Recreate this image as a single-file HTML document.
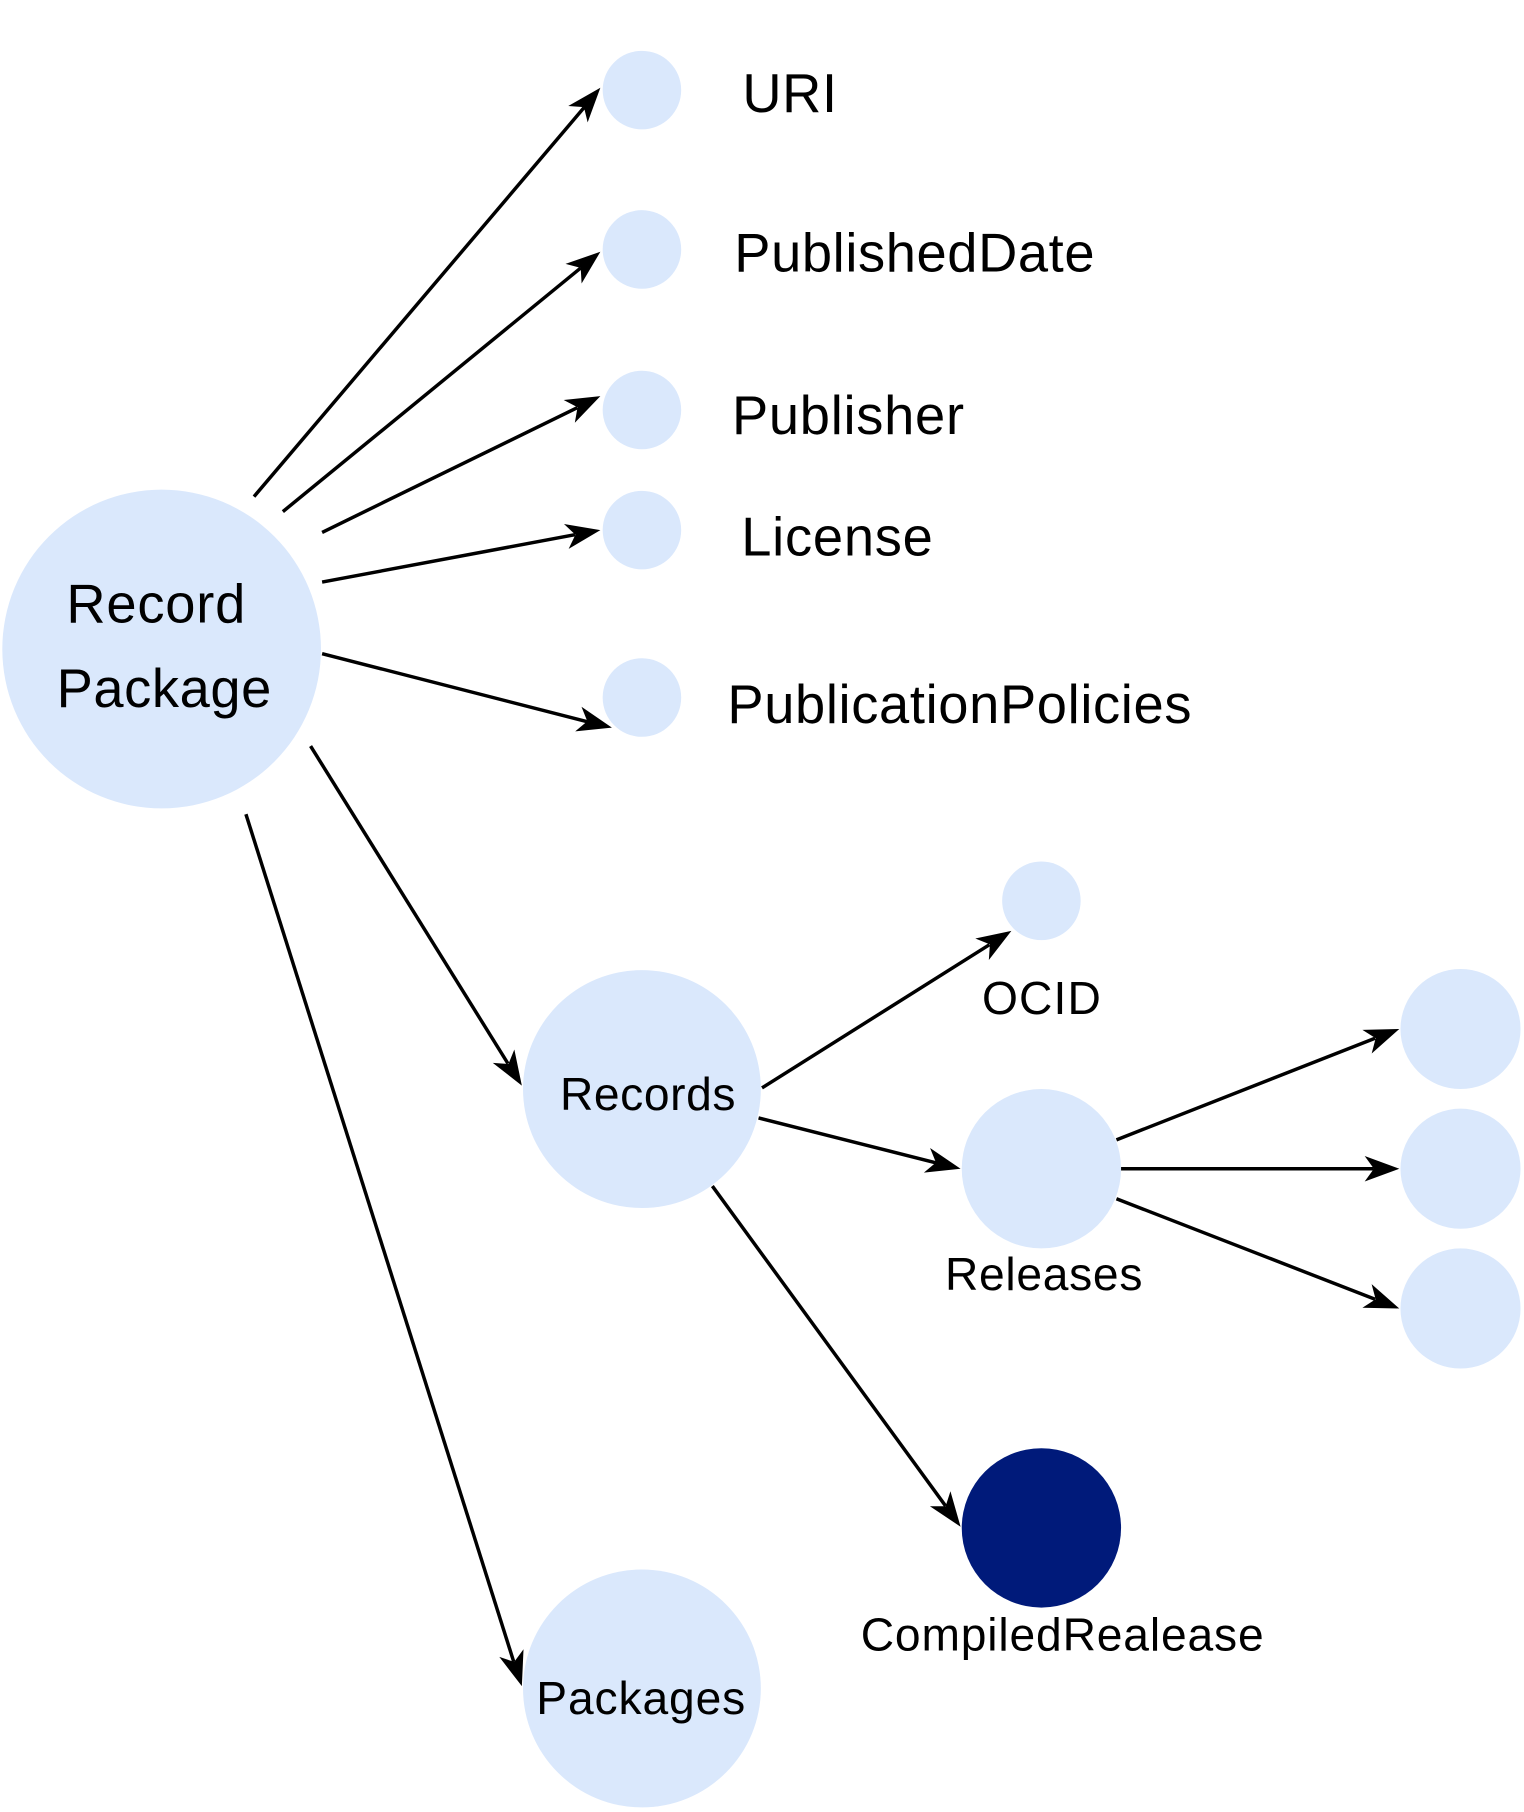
<!DOCTYPE html>
<html><head><meta charset="utf-8"><style>html,body{margin:0;padding:0;background:#fff}svg{display:block}</style></head>
<body>
<svg width="1524" height="1812" viewBox="0 0 1320 1569" preserveAspectRatio="none" xmlns="http://www.w3.org/2000/svg" font-family="Liberation Sans, Helvetica, Arial, sans-serif">
<g fill="#dae8fc">
<circle cx="140" cy="562" r="138"/>
<circle cx="556" cy="78" r="34"/>
<circle cx="556" cy="216" r="34"/>
<circle cx="556" cy="355" r="34"/>
<circle cx="556" cy="459" r="34"/>
<circle cx="556" cy="604" r="34"/>
<circle cx="556" cy="943" r="103"/>
<circle cx="556" cy="1462" r="103"/>
<circle cx="902" cy="780" r="34"/>
<circle cx="902" cy="1012" r="69"/>
<circle cx="1265" cy="891" r="52"/>
<circle cx="1265" cy="1012" r="52"/>
<circle cx="1265" cy="1133" r="52"/>
</g>
<circle cx="902" cy="1323" r="69" fill="#001a7a"/>
<g stroke="#000" stroke-width="3" fill="none">
<line x1="220" y1="430" x2="506" y2="93"/>
<line x1="245" y1="443" x2="503" y2="232"/>
<line x1="279" y1="461" x2="500" y2="353"/>
<line x1="279" y1="504" x2="498" y2="463"/>
<line x1="279" y1="566" x2="509" y2="625"/>
<line x1="269" y1="646" x2="440" y2="921"/>
<line x1="213" y1="705" x2="445" y2="1439"/>
<line x1="660" y1="942" x2="857" y2="818"/>
<line x1="657" y1="968" x2="811" y2="1007"/>
<line x1="967" y1="987" x2="1191" y2="899"/>
<line x1="971" y1="1012" x2="1190" y2="1012"/>
<line x1="967" y1="1038" x2="1191" y2="1125"/>
<line x1="617" y1="1027" x2="819" y2="1304"/>
</g>
<g fill="#000">
<path d="M520,76 L508.99,106 L505.77,92.78 L492.21,91.78 Z"/>
<path d="M520,218 L503.75,245.51 L502.97,231.93 L489.81,228.49 Z"/>
<path d="M520,343 L497.89,366.07 L500.24,352.68 L488.21,346.31 Z"/>
<path d="M520,459 L492.53,475.32 L498.38,463.04 L488.49,453.7 Z"/>
<path d="M530,630 L498.21,633.25 L508.68,624.56 L503.65,611.93 Z"/>
<path d="M452,940 L426.81,920.34 L440.38,921.32 L445.49,908.72 Z"/>
<path d="M452,1460 L432.46,1434.72 L445.36,1439.03 L453.44,1428.08 Z"/>
<path d="M876,806 L856.48,831.29 L857.39,817.72 L844.76,812.67 Z"/>
<path d="M832,1012 L800.22,1015.35 L810.66,1006.63 L805.58,994.01 Z"/>
<path d="M1212,891 L1188.08,912.19 L1191.52,899.03 L1180.06,891.71 Z"/>
<path d="M1212,1012 L1182,1023 L1190,1012 L1182,1001 Z"/>
<path d="M1212,1133 L1180.05,1132.42 L1191.49,1125.05 L1188.01,1111.9 Z"/>
<path d="M832,1322 L805.44,1304.23 L819.04,1304.22 L823.22,1291.27 Z"/>
</g>
<g font-size="47" fill="#000">
<text x="135" y="539" text-anchor="middle" textLength="155">Record</text>
<text x="142" y="612" text-anchor="middle" textLength="186">Package</text>
<text x="643" y="97" textLength="82">URI</text>
<text x="636" y="235" textLength="312">PublishedDate</text>
<text x="634" y="376" textLength="201">Publisher</text>
<text x="642" y="481" textLength="166">License</text>
<text x="630" y="626" textLength="402">PublicationPolicies</text>
</g>
<g font-size="40" fill="#000" text-anchor="middle">
<text x="561" y="961" textLength="152">Records</text>
<text x="555" y="1484" textLength="181">Packages</text>
<text x="902" y="878" textLength="103">OCID</text>
<text x="904" y="1117" textLength="171">Releases</text>
<text x="920" y="1429" textLength="349">CompiledRealease</text>
</g>
</svg>
</body></html>
